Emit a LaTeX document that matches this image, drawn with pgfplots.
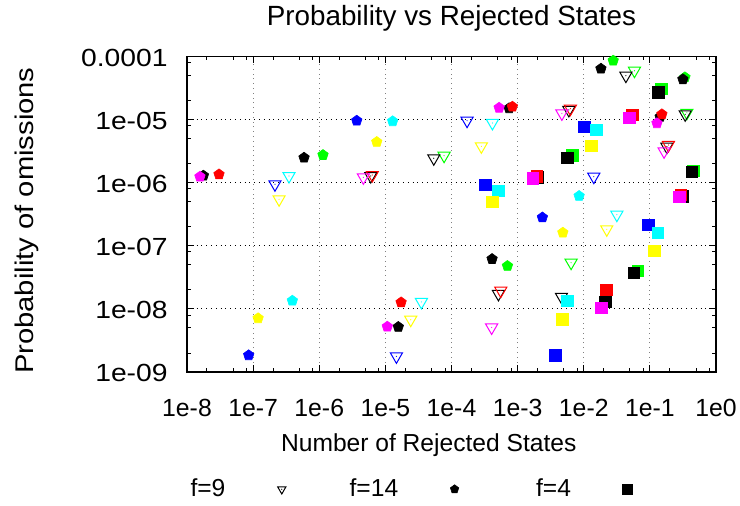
\documentclass[border=0pt]{standalone}
\usepackage{fontspec}
\setmainfont{Liberation Sans}
\newfontfamily\widefont[FakeStretch=1.14]{Liberation Sans}
\usepackage{pgfplots}
\pgfplotsset{compat=1.18}
\definecolor{gpred}{RGB}{255,0,0}
\definecolor{gpgreen}{RGB}{0,255,0}
\definecolor{gpblue}{RGB}{0,0,255}
\definecolor{gpmagenta}{RGB}{255,0,255}
\definecolor{gpcyan}{RGB}{0,255,255}
\definecolor{gpyellow}{RGB}{255,255,0}
\definecolor{gpblack}{RGB}{0,0,0}
\pgfdeclareplotmark{dtri}{%
  \pgfpathmoveto{\pgfqpoint{0pt}{-\pgfplotmarksize}}%
  \pgfpathlineto{\pgfqpointpolar{30}{\pgfplotmarksize}}%
  \pgfpathlineto{\pgfqpointpolar{150}{\pgfplotmarksize}}%
  \pgfpathclose
  \pgfusepathqstroke
  \pgfpathcircle{\pgfpointorigin}{0.3pt}\pgfusepathqfill
}
\begin{document}
\begin{tikzpicture}
\useasboundingbox (-93.5pt,-67pt) rectangle (276.5pt,186pt);
\begin{axis}[
  xmode=log, ymode=log,
  scale only axis, width=264.5pt, height=157.65pt,
  xmin=1e-8, xmax=1, ymin=1e-9, ymax=1e-4,
  xtick={1e-8,1e-7,1e-6,1e-5,1e-4,1e-3,1e-2,1e-1,1},
  xticklabels={1e-8,1e-7,1e-6,1e-5,1e-4,1e-3,1e-2,1e-1,1e0},
  ytick={1e-9,1e-8,1e-7,1e-6,1e-5,1e-4},
  yticklabels={1e-09,1e-08,1e-07,1e-06,1e-05,0.0001},
  minor xtick={2e-8,5e-8,8e-8,2e-7,5e-7,8e-7,2e-6,5e-6,8e-6,2e-5,5e-5,8e-5,2e-4,5e-4,8e-4,2e-3,5e-3,8e-3,2e-2,5e-2,8e-2,2e-1,5e-1,8e-1},
  minor ytick={2e-9,5e-9,8e-9,2e-8,5e-8,8e-8,2e-7,5e-7,8e-7,2e-6,5e-6,8e-6,2e-5,5e-5,8e-5},
  tick align=inside, tick pos=both,
  major tick length=3.3pt, minor tick length=1.8pt,
  every tick/.style={black, line width=0.5pt},
  axis line style={line width=0.7pt},
  xmajorgrids, ymajorgrids,
  x grid style={gray, dotted, line width=0.5pt},
  y grid style={black, dotted, line width=0.5pt},
  xticklabel style={font=\fontsize{12.4}{14}\selectfont, anchor=base, inner sep=0pt, yshift=-22.35pt},
  yticklabel style={font=\widefont\fontsize{12.4}{14}\selectfont, anchor=base east, inner sep=0pt, xshift=-9.5pt, yshift=-4.8pt},
  title={Probability vs Rejected States},
  every axis title/.style={font=\fontsize{13.9}{16}\selectfont, at={(axis description cs:0.5,1.1005)}, anchor=base},
  xlabel={Number of Rejected States},
  every axis x label/.style={font=\fontsize{12.3}{14}\selectfont, at={(axis description cs:0.457,-0.2528)}, anchor=base},
  ylabel={Probability of omissions},
  every axis y label/.style={font=\widefont\fontsize{12.8}{15}\selectfont, at={(axis description cs:-0.2906,0.48)}, anchor=base, rotate=90},
  legend columns=3, legend plot pos=right, legend cell align=left,
  legend style={draw=none, fill=none, inner sep=0pt, column sep=0pt, row sep=0pt,
    nodes={inner sep=0pt, font=\fontsize{12.3}{14}\selectfont},
    at={(axis description cs:-0.0794,-0.3717)}, anchor=west},
]
% legend entries (black samples)
\addlegendimage{legend image code/.code={\path (0pt,0pt) (46pt,0pt); \draw[black, line width=0.5pt] plot[mark=dtri, mark size=2.4pt] coordinates {(28pt,0pt)};}}
\addlegendentry{\makebox[40pt][r]{f=9}}
\addlegendimage{legend image code/.code={\path (0pt,0pt) (46pt,0pt); \draw[black, fill=black, line width=0.3pt] plot[mark=pentagon*, mark size=2.2pt] coordinates {(28pt,0pt)};}}
\addlegendentry{\makebox[40pt][r]{f=14}}
\addlegendimage{legend image code/.code={\path (0pt,0pt) (46pt,0pt); \draw[black, fill=black, line width=0.3pt] plot[mark=square*, mark size=2.5pt] coordinates {(28pt,0pt)};}}
\addlegendentry{\makebox[40pt][r]{f=4}}

% f=9 : open down-triangles
\pgfplotsset{tri/.style={only marks, mark=dtri, mark size=3.5pt, line width=0.5pt, forget plot}}
\addplot[tri, gpgreen] coordinates {(5.85e-2,6.00e-5) (0.363,1.29e-5) (7.73e-5,2.69e-6) (6.44e-3,5.41e-8)};
\addplot[tri, gpblack] coordinates {(4.34e-2,5.00e-5) (0.342,1.22e-5) (5.40e-5,2.45e-6) (4.60e-3,1.56e-8) (5.96e-3,1.43e-5) (0.181,3.74e-6) (6.01e-6,1.28e-6) (5.13e-4,1.73e-8)};
\addplot[tri, gpred] coordinates {(6.29e-3,1.50e-5) (0.191,3.98e-6) (6.35e-6,1.33e-6) (5.57e-4,1.95e-8)};
\addplot[tri, gpmagenta] coordinates {(4.67e-3,1.26e-5) (0.164,3.16e-6) (4.65e-6,1.22e-6) (4.05e-4,5.08e-9)};
\addplot[tri, gpblue] coordinates {(1.72e-4,9.66e-6) (1.42e-2,1.25e-6) (2.14e-7,9.48e-7) (1.47e-5,1.77e-9)};
\addplot[tri, gpcyan] coordinates {(4.16e-4,8.89e-6) (3.17e-2,3.12e-7) (3.49e-7,1.28e-6) (3.51e-5,1.29e-8)};
\addplot[tri, gpyellow] coordinates {(2.83e-4,3.79e-6) (2.23e-2,1.83e-7) (2.47e-7,5.48e-7) (2.42e-5,6.75e-9)};

% f=14 : filled pentagons
\pgfplotsset{pent/.style={only marks, mark=pentagon*, mark size=2.75pt, line width=0.3pt, forget plot}}
\addplot[pent, gpgreen] coordinates {(2.79e-2,8.65e-5) (0.339,4.71e-5) (1.14e-6,2.76e-6) (7.02e-4,4.80e-8)};
\addplot[pent, gpblack] coordinates {(1.82e-2,6.45e-5) (0.316,4.38e-5) (5.89e-7,2.50e-6) (4.11e-4,6.19e-8) (7.43e-4,1.52e-5) (0.143,1.11e-5) (1.77e-8,1.30e-6) (1.57e-5,5.18e-9)};
\addplot[pent, gpred] coordinates {(8.34e-4,1.61e-5) (0.152,1.22e-5) (3.05e-8,1.36e-6) (1.73e-5,1.27e-8)};
\addplot[pent, gpmagenta] coordinates {(5.25e-4,1.55e-5) (0.128,8.79e-6) (1.57e-8,1.25e-6) (1.07e-5,5.23e-9)};
\addplot[pent, gpblue] coordinates {(3.69e-6,9.66e-6) (2.37e-3,2.82e-7) (8.57e-8,1.84e-9)};
\addplot[pent, gpcyan] coordinates {(1.29e-5,9.46e-6) (8.51e-3,6.18e-7) (3.92e-7,1.35e-8)};
\addplot[pent, gpyellow] coordinates {(7.41e-6,4.44e-6) (4.83e-3,1.62e-7) (1.19e-7,7.11e-9)};

% f=4 : filled squares
\pgfplotsset{sq/.style={only marks, mark=square*, mark size=2.9pt, line width=0.3pt, forget plot}}
\addplot[sq, gpgreen] coordinates {(6.75e-3,2.76e-6) (0.148,3.08e-5) (6.58e-2,4.04e-8) (0.457,1.54e-6)};
\addplot[sq, gpblack] coordinates {(5.61e-3,2.50e-6) (0.134,2.75e-5) (5.73e-2,3.76e-8) (0.432,1.49e-6) (2.11e-2,1.30e-8) (0.308,6.07e-7) (2.01e-3,1.21e-6)};
\addplot[sq, gpred] coordinates {(1.95e-3,1.28e-6) (5.46e-2,1.19e-5) (2.18e-2,2.0e-8) (0.294,6.41e-7)};
\addplot[sq, gpmagenta] coordinates {(1.70e-3,1.18e-6) (4.86e-2,1.07e-5) (1.83e-2,1.05e-8) (0.281,6.03e-7)};
\addplot[sq, gpblue] coordinates {(3.22e-4,9.33e-7) (1.01e-2,7.76e-6) (9.42e-2,2.17e-7) (3.69e-3,1.82e-9)};
\addplot[sq, gpcyan] coordinates {(5.07e-4,7.50e-7) (1.54e-2,6.95e-6) (0.132,1.62e-7) (5.61e-3,1.35e-8)};
\addplot[sq, gpyellow] coordinates {(4.11e-4,4.97e-7) (1.29e-2,3.84e-6) (0.116,8.30e-8) (4.71e-3,6.92e-9)};
\end{axis}
\end{tikzpicture}
\end{document}
